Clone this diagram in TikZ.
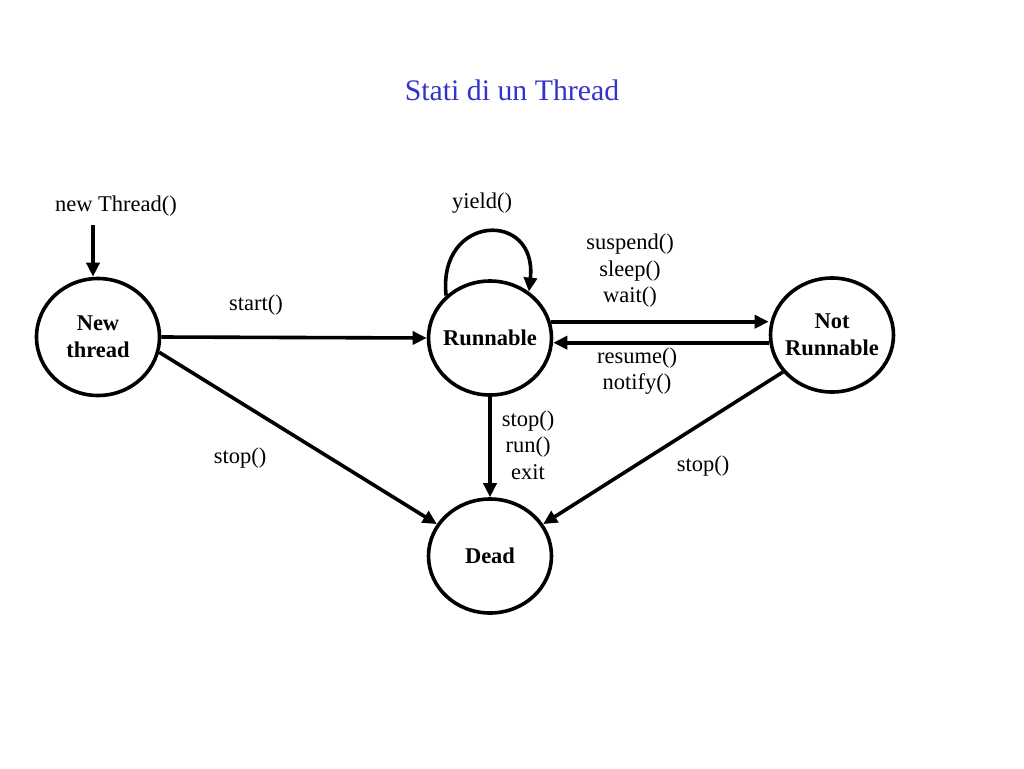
\documentclass[tikz,border=0pt]{standalone}
\usepackage{fontspec}
\setmainfont{Liberation Serif}
\usetikzlibrary{arrows.meta,shapes.geometric}
\definecolor{titleblue}{RGB}{51,51,204}
\tikzset{
  state/.style={ellipse, draw, line width=3.6pt, minimum width=123pt, minimum height=114pt, inner ysep=0pt, inner xsep=-6pt,
    align=center, font=\fontsize{22.5}{27}\selectfont\bfseries},
  lbl/.style={align=center, font=\fontsize{22.5}{26.5}\selectfont},
  arr/.style={line width=3.6pt, -{Triangle[length=14pt,width=13pt]}},
}
\begin{document}
\begin{tikzpicture}[x=1pt,y=-1pt]
\useasboundingbox (0,0) rectangle (1024,768);
\node[text=titleblue, font=\fontsize{29.8}{34}\selectfont] (title) at (512,90) {Stati di un Thread};

\node[state, minimum height=117pt] (NT) at (98,337) {New\\thread};
\node[state] (R) at (490,338) {Runnable};
\node[state] (NR) at (832,335) {Not\\Runnable};
\node[state] (D) at (490,556) {Dead};

\node[lbl] (newlbl) at (116,206) {new Thread()};
\coordinate (nt0) at (93,225);
\draw[arr] (nt0) -- (nt0 |- NT.north);

\draw[arr] (NT.east) -- (R.west);
\node[lbl] (startlbl) at (256,305) {start()};

\draw[arr] (NT.-14) -- (D.149);
\node[lbl] (stop1) at (240,458) {stop()};

\draw[arr] (R.15) -- (R.15 -| NR.west);
\node[lbl] (susp) at (630,271) {suspend()\\sleep()\\wait()};

\draw[arr] (NR.187) -- (NR.187 -| R.east);
\node[lbl] (res) at (637,371) {resume()\\notify()};

\draw[arr] (R.south) -- (D.north);
\node[lbl] (stop2) at (528,445) {stop()\\run()\\exit};

\draw[arr] (NR.217) -- (D.31);
\node[lbl] (stop3) at (703,466) {stop()};

\draw[arr] (R.136) .. controls +(-9,-82) and +(9,-82) .. (R.50);
\node[lbl] (yieldlbl) at (482,203) {yield()};
\end{tikzpicture}
\end{document}
